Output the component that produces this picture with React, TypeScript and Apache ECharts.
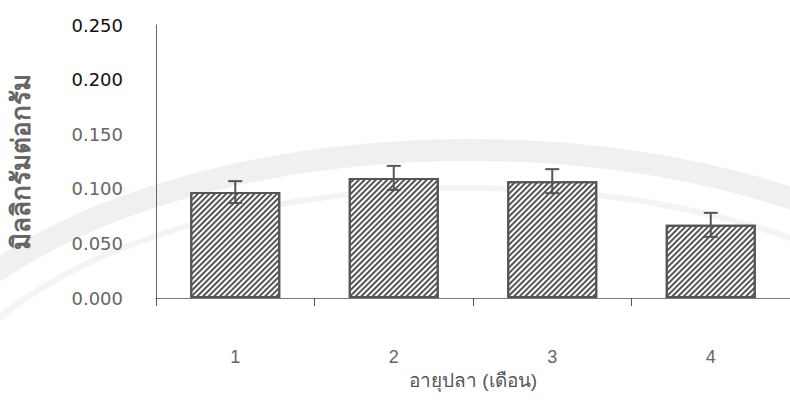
import React, { useEffect, useRef } from "react";
import * as echarts from "echarts";

// Fish age in months (x categories)
const months = ["1", "2", "3", "4"];
// Mean value (mg per g) for each age
const meanValues = [0.097, 0.11, 0.107, 0.067];
// Standard error for each age
const errorValues = [0.01, 0.011, 0.011, 0.011];
// Y axis range
const yMin = 0;
const yMax = 0.25;
const yStep = 0.05;

const xTitle = "อายุปลา (เดือน)";
const yTitle = "มิลลิกรัมต่อกรัม";

const NUM_FONT = "'DejaVu Sans', 'Liberation Sans', sans-serif";
const FONT = "'Liberation Sans', Arial, sans-serif";

export default function App() {
  const ref = useRef<HTMLDivElement>(null);

  useEffect(() => {
    document.body.style.margin = "0";
    if (!ref.current) return;
    const chart = echarts.init(ref.current, null, { renderer: "svg" });

    const errData = months.map((_, i) => [i, meanValues[i], errorValues[i]]);

    chart.setOption({
      animation: false,
      backgroundColor: "#ffffff",
      textStyle: { fontFamily: FONT },
      // faint seal watermark behind the plot
      graphic: [
        {
          type: "ellipse",
          silent: true,
          z: -10,
          shape: { cx: 470, cy: 450, rx: 590, ry: 300 },
          style: { fill: "none", stroke: "#f0f0f0", lineWidth: 22 },
        },
        {
          type: "ellipse",
          silent: true,
          z: -10,
          shape: { cx: 470, cy: 450, rx: 545, ry: 262 },
          style: { fill: "none", stroke: "#f4f4f4", lineWidth: 6 },
        },
      ],
      grid: { left: 153, top: 25, bottom: 105, width: 646 },
      xAxis: {
        type: "category",
        data: months,
        name: xTitle,
        nameLocation: "middle",
        nameGap: 70,
        nameTextStyle: { fontSize: 19, color: "#555", fontFamily: FONT },
        axisLine: { lineStyle: { color: "#777", width: 1 } },
        axisTick: { show: true, length: 8, lineStyle: { color: "#555" } },
        axisLabel: { margin: 50, fontSize: 18, color: "#666", fontFamily: FONT },
      },
      yAxis: {
        type: "value",
        min: yMin,
        max: yMax,
        interval: yStep,
        name: yTitle,
        nameLocation: "middle",
        nameGap: 122,
        nameRotate: 90,
        nameTextStyle: { fontSize: 26, color: "#666", fontWeight: "bold", fontFamily: FONT },
        axisLine: { show: true, lineStyle: { color: "#666", width: 1 } },
        axisTick: { show: false },
        splitLine: { show: false },
        axisLabel: {
          margin: 33,
          fontSize: 18,
          fontFamily: NUM_FONT,
          formatter: (v: number) => v.toFixed(3),
          color: (v: any) => (Number(v) >= 0.2 ? "#111" : "#666"),
        },
      },
      series: [
        {
          type: "bar",
          data: meanValues,
          barWidth: 90,
          itemStyle: {
            color: "#ffffff",
            borderColor: "#555",
            borderWidth: 2,
            decal: {
              symbol: "rect",
              dashArrayX: [1, 0],
              dashArrayY: [1.6, 1.6],
              rotation: -Math.PI / 4,
              color: "#555",
            },
          },
        },
        {
          type: "custom",
          data: errData,
          z: 5,
          renderItem: (params: any, api: any) => {
            const i = api.value(0);
            const m = api.value(1);
            const e = api.value(2);
            const top = api.coord([i, m + e]);
            const bot = api.coord([i, m - e]);
            const half = 7;
            const style = { stroke: "#555", lineWidth: 2 };
            return {
              type: "group",
              children: [
                { type: "line", shape: { x1: top[0], y1: top[1], x2: bot[0], y2: bot[1] }, style },
                { type: "line", shape: { x1: top[0] - half, y1: top[1], x2: top[0] + half, y2: top[1] }, style },
                { type: "line", shape: { x1: bot[0] - half, y1: bot[1], x2: bot[0] + half, y2: bot[1] }, style },
              ],
            };
          },
        },
      ],
    });

    return () => chart.dispose();
  }, []);

  return <div ref={ref} style={{ width: 790, height: 403 }} />;
}
